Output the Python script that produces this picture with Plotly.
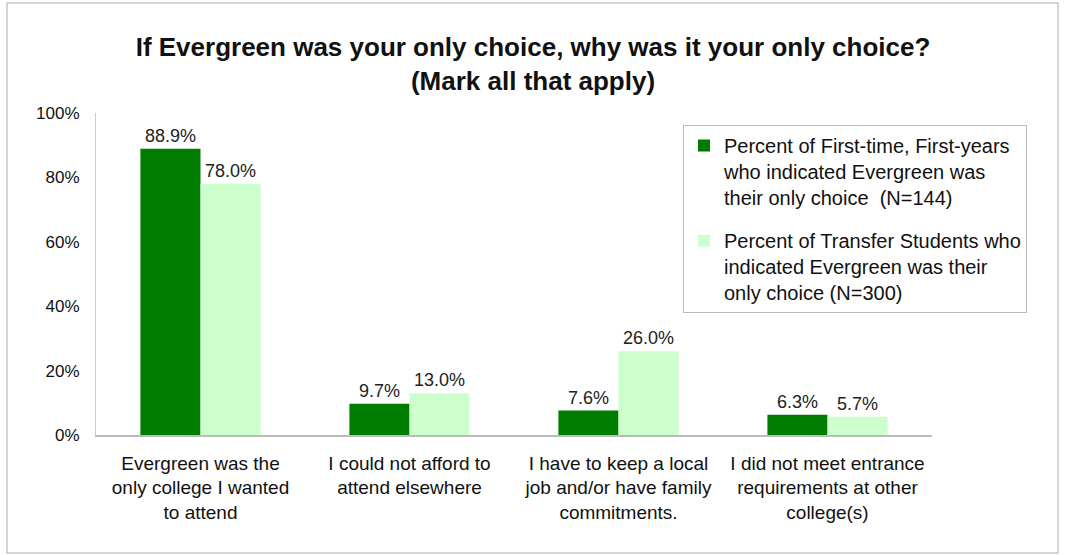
import plotly.graph_objects as go

categories = [
    "Evergreen was the<br>only college I wanted<br>to attend",
    "I could not afford to<br>attend elsewhere",
    "I have to keep a local<br>job and/or have family<br>commitments.",
    "I did not meet entrance<br>requirements at other<br>college(s)",
]
first_year = [88.9, 9.7, 7.6, 6.3]
transfer = [78.0, 13.0, 26.0, 5.7]
series_names = [
    "Percent of First-time, First-years<br>who indicated Evergreen was<br>their only choice  (N=144)",
    "Percent of Transfer Students who<br>indicated Evergreen was their<br>only choice (N=300)",
]
y_ticks = [0, 20, 40, 60, 80, 100]
y_ticklabels = ["0%", "20%", "40%", "60%", "80%", "100%"]

font = "Liberation Sans, Arial, sans-serif"

W, H = 1066, 555
L, R, T, B = 96, 134, 113, 120
pw, ph = W - L - R, H - T - B

fig = go.Figure()
fig.add_trace(go.Bar(
    x=categories, y=first_year, name=series_names[0], legendgroup="g1",
    marker=dict(color="#007D00", line=dict(width=0)),
    text=[f"{v:.1f}%" for v in first_year], textposition="outside",
    textfont=dict(size=18, color="#222222", family=font), cliponaxis=False,
))
fig.add_trace(go.Bar(
    x=categories, y=transfer, name=series_names[1], legendgroup="g2",
    marker=dict(color="#CCFFCC", line=dict(width=0)),
    text=[f"{v:.1f}%" for v in transfer], textposition="outside",
    textfont=dict(size=18, color="#222222", family=font), cliponaxis=False,
))

fig.update_layout(
    width=W, height=H,
    paper_bgcolor="white", plot_bgcolor="white",
    margin=dict(l=L, r=R, t=T, b=B),
    barmode="group", bargap=0.425, bargroupgap=0,
    font=dict(family=font, size=17, color="#111111"),
    title=dict(
        text="<b>If Evergreen was your only choice, why was it your only choice?<br>(Mark all that apply)</b>",
        x=0.5, xanchor="center", y=1 - 56 / H, yanchor="middle",
        font=dict(size=26, family=font, color="#111111"),
    ),
    legend=dict(
        x=(683 - L) / pw, xanchor="left",
        y=(H - B - 125) / ph, yanchor="top",
        bordercolor="#BBBBBB", borderwidth=1,
        font=dict(size=20, family=font, color="#111111"),
        traceorder="grouped", tracegroupgap=14, itemwidth=30, valign="top",
    ),
    shapes=[dict(type="rect", xref="paper", yref="paper",
                 x0=(7 - L) / pw, x1=(1058 - L) / pw,
                 y0=-(B - 2) / ph, y1=(H - B - 3) / ph,
                 line=dict(color="#C8C8C8", width=1.5), fillcolor="rgba(0,0,0,0)")],
)
fig.update_yaxes(
    range=[0, 100], tickvals=y_ticks, ticktext=y_ticklabels,
    showgrid=False, showline=True, linecolor="#CCCCCC", linewidth=1,
    ticks="", ticklabelstandoff=12, tickfont=dict(size=17), zeroline=False,
)
fig.update_xaxes(
    showline=True, linecolor="#BBBBBB", linewidth=1.5, ticks="",
    tickfont=dict(size=19), ticklabelstandoff=10,
)

fig.write_html("out.html", config={"displayModeBar": False},
               post_script="document.body.style.margin='0';document.body.style.overflow='hidden';")
